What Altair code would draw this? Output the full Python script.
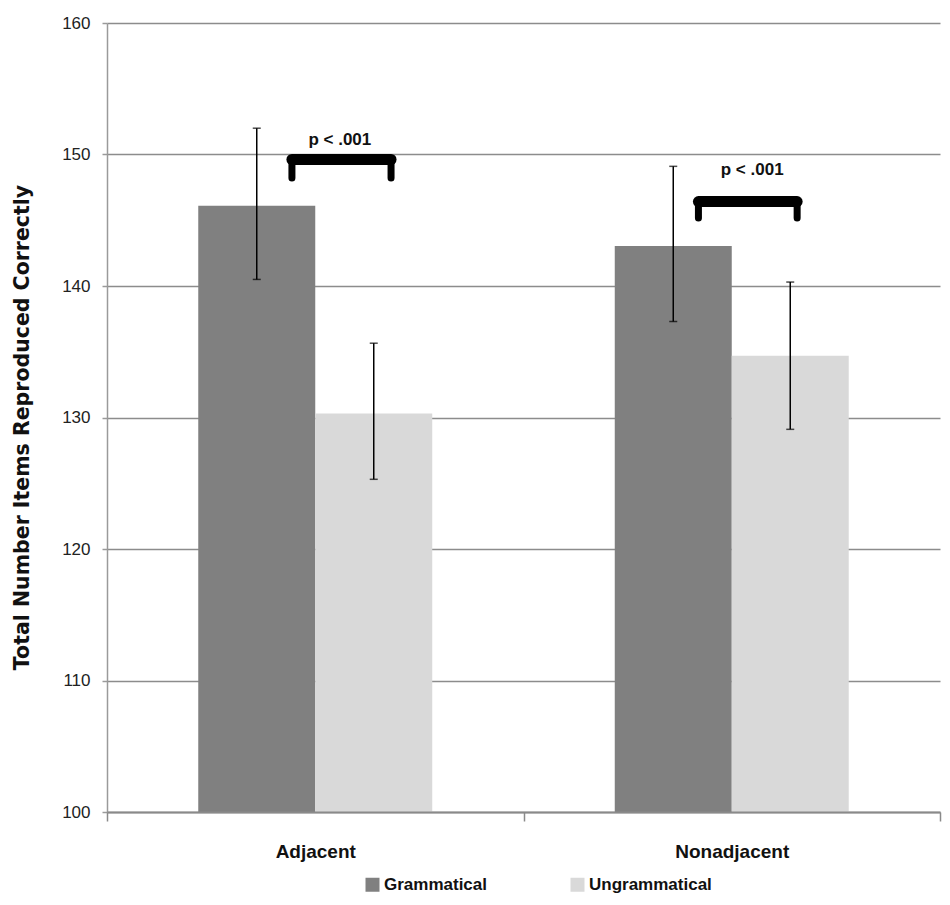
import altair as alt
import pandas as pd

# ---- data ----
conditions = ["Adjacent", "Adjacent", "Nonadjacent", "Nonadjacent"]
item_types = ["Grammatical", "Ungrammatical", "Grammatical", "Ungrammatical"]
means = [146.1, 130.3, 143.05, 134.7]
err_low = [140.5, 125.3, 137.3, 129.1]
err_high = [152.0, 135.65, 149.1, 140.3]

category_order = ["Adjacent", "Nonadjacent"]
type_order = ["Grammatical", "Ungrammatical"]
type_colors = ["#808080", "#d9d9d9"]

y_min, y_max = 100, 160
y_ticks = [100, 110, 120, 130, 140, 150, 160]

# significance brackets (x in category-position units 0..2, y in data units)
bracket_left = [0.444, 1.420]
bracket_right = [0.682, 1.657]
bracket_top = [149.62, 146.42]
bracket_bottom = [148.21, 145.17]
sig_x = [0.559, 1.549]
sig_y = [150.74, 148.46]
sig_text = ["p < .001", "p < .001"]

NARROW = "Liberation Sans Narrow, Liberation Sans, Arial Narrow, sans-serif"

df = pd.DataFrame({
    "condition": conditions,
    "type": item_types,
    "mean": means,
    "lo": err_low,
    "hi": err_high,
})
bdf = pd.DataFrame({
    "xl": bracket_left,
    "xr": bracket_right,
    "yt": bracket_top,
    "yb": bracket_bottom,
    "tx": sig_x,
    "ty": sig_y,
    "label": sig_text,
})

y_scale = alt.Scale(domain=[y_min, y_max], nice=False, zero=False)

x_enc = alt.X(
    "condition:N",
    sort=category_order,
    scale=alt.Scale(paddingInner=0, paddingOuter=0),
    axis=alt.Axis(
        title=None, labelAngle=0, tickBand="extent", grid=False,
        domainColor="#8a8a8a", domainWidth=2, tickColor="#8a8a8a",
        tickSize=9, tickWidth=1.5, labelFont=NARROW, labelFontSize=19,
        labelFontWeight="bold", labelColor="#111111",
        labelBaseline="alphabetic", labelPadding=36, zindex=1,
    ),
)
xoff_enc = alt.XOffset("type:N", sort=type_order,
                       scale=alt.Scale(paddingInner=0, paddingOuter=0.78))

y_axis = alt.Axis(
    values=y_ticks, grid=True, gridColor="#8c8c8c", gridWidth=1.5,
    domainColor="#9a9a9a", domainWidth=1.5, tickColor="#9a9a9a",
    tickSize=5, tickWidth=1.5, labelFont=NARROW, labelFontSize=17,
    labelColor="#222222", labelPadding=12,
    title="Total Number Items Reproduced Correctly",
    titleFont="DejaVu Sans", titleFontSize=20.5, titleFontWeight="bold",
    titleColor="#111111", titleAngle=270, titleX=-85, titleY=404,
    titleAlign="center", titleBaseline="middle",
)

bars = alt.Chart(df).mark_bar().encode(
    x=x_enc,
    xOffset=xoff_enc,
    y=alt.Y("mean:Q", scale=y_scale, axis=y_axis),
    y2=alt.datum(y_min),
    color=alt.Color(
        "type:N",
        sort=type_order,
        scale=alt.Scale(domain=type_order, range=type_colors),
        legend=alt.Legend(
            title=None, orient="none", legendX=257, legendY=853,
            direction="horizontal", symbolType="square", symbolSize=196,
            symbolStrokeWidth=0, symbolOpacity=1, labelFont=NARROW,
            labelFontSize=17, labelFontWeight="bold", labelColor="#111111",
            labelOffset=3, columnPadding=82, padding=0,
        ),
    ),
)

err_rule = alt.Chart(df).mark_rule(color="black", strokeWidth=1.5).encode(
    x=alt.X("condition:N", sort=category_order),
    xOffset=alt.XOffset("type:N", sort=type_order),
    y=alt.Y("lo:Q", scale=y_scale),
    y2="hi:Q",
)
cap_lo = alt.Chart(df).mark_tick(color="black", size=8, thickness=1.5).encode(
    x=alt.X("condition:N", sort=category_order),
    xOffset=alt.XOffset("type:N", sort=type_order),
    y=alt.Y("lo:Q", scale=y_scale),
)
cap_hi = alt.Chart(df).mark_tick(color="black", size=8, thickness=1.5).encode(
    x=alt.X("condition:N", sort=category_order),
    xOffset=alt.XOffset("type:N", sort=type_order),
    y=alt.Y("hi:Q", scale=y_scale),
)

main = alt.layer(bars, err_rule, cap_lo, cap_hi)

bx = alt.Scale(domain=[0, 2], nice=False, zero=False)
b_horiz = alt.Chart(bdf).mark_rule(color="black", strokeWidth=11, strokeCap="round").encode(
    x=alt.X("xl:Q", scale=bx, axis=None),
    x2="xr:Q",
    y=alt.Y("yt:Q", scale=y_scale),
)
b_left = alt.Chart(bdf).mark_rule(color="black", strokeWidth=7, strokeCap="round").encode(
    x=alt.X("xl:Q", scale=bx, axis=None),
    y=alt.Y("yt:Q", scale=y_scale),
    y2="yb:Q",
)
b_right = alt.Chart(bdf).mark_rule(color="black", strokeWidth=7, strokeCap="round").encode(
    x=alt.X("xr:Q", scale=bx, axis=None),
    y=alt.Y("yt:Q", scale=y_scale),
    y2="yb:Q",
)
b_text = alt.Chart(bdf).mark_text(
    font=NARROW, fontSize=17, fontWeight="bold", color="#111111",
    baseline="alphabetic", align="center",
).encode(
    x=alt.X("tx:Q", scale=bx, axis=None),
    y=alt.Y("ty:Q", scale=y_scale),
    text="label:N",
)
brackets = alt.layer(b_horiz, b_left, b_right, b_text)

chart = alt.layer(main, brackets).resolve_scale(x="independent").properties(
    width=833,
    height=789,
    autosize=alt.AutoSizeParams(type="none"),
    padding={"left": 99, "top": 15, "right": 2, "bottom": 88},
    background="white",
).configure_view(stroke=None)

chart.save("out.html", embed_options={"renderer": "svg", "actions": False})
